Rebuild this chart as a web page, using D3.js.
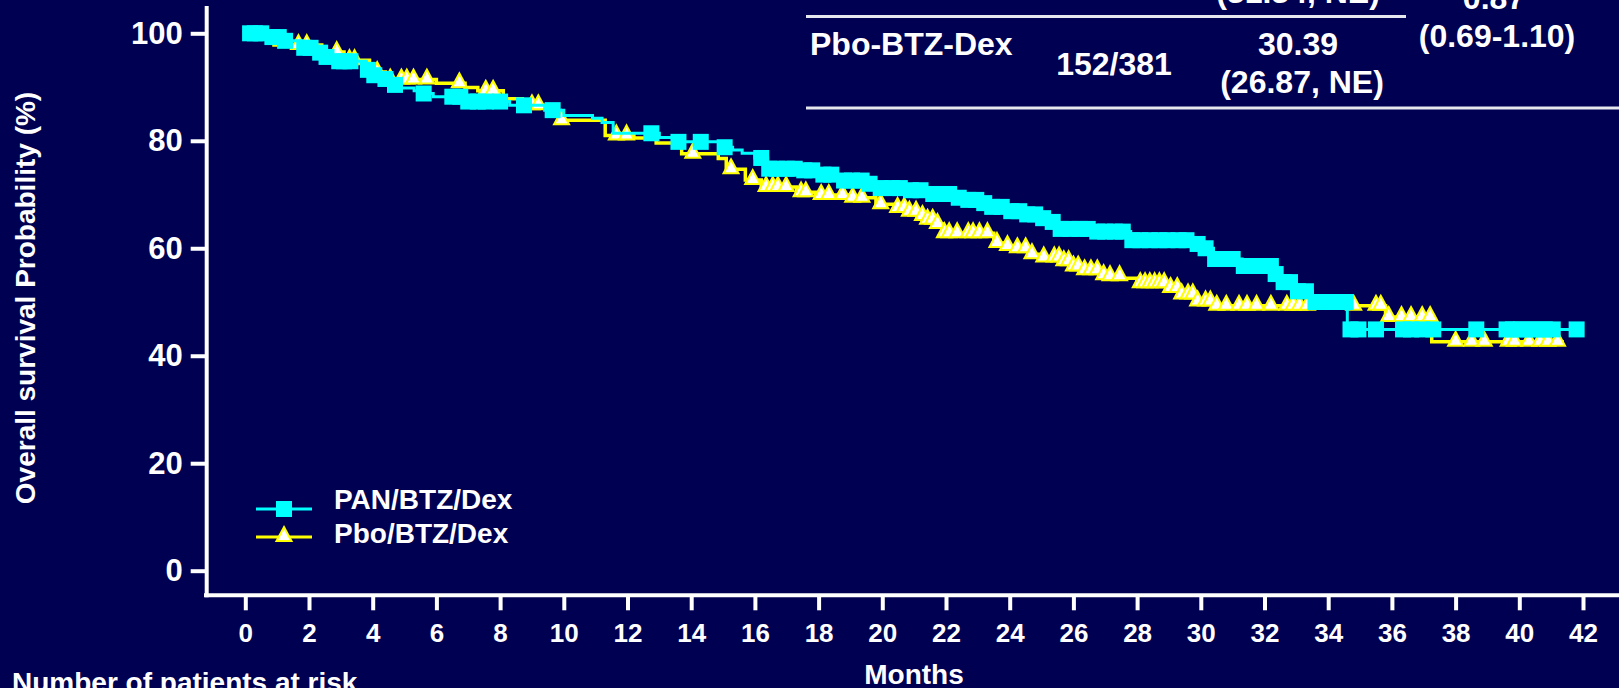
<!DOCTYPE html>
<html>
<head>
<meta charset="utf-8">
<script src="https://cdn.jsdelivr.net/npm/d3@7"></script>
<style>
  body { margin: 0; background: #000052; }
  svg text { font-family: "Liberation Sans", Arial, sans-serif; font-weight: bold; fill: #fff; }
</style>
</head>
<body>
<svg id="plot" width="1619" height="688"></svg>
<script>
// Kaplan-Meier steps: [month, survival %]
const panSteps = [[0, 100], [0.7, 99.3], [1.1, 98.6], [1.8, 97.3], [2.3, 96.4], [2.5, 95.6], [2.9, 94.8],
  [3.8, 93.2], [4.0, 92.2], [4.3, 91.5], [4.6, 90.4], [4.9, 89.8], [5.3, 89.3], [5.5, 88.8], [5.9, 88.2],
  [6.9, 87.3], [8.3, 86.6], [9.4, 85.7], [10.0, 84.7], [10.9, 84.2], [11.2, 83.4], [11.55, 81.4],
  [13.0, 80.6], [13.5, 79.8], [14.9, 78.8], [15.3, 78.3], [15.6, 77.7], [16.0, 76.8], [16.4, 74.8],
  [17.5, 74.5], [18.1, 73.7], [18.7, 72.6], [19.5, 72.0], [19.9, 71.2], [20.8, 70.8], [21.5, 70.1],
  [22.3, 69.4], [22.6, 69.0], [23.1, 68.4], [23.3, 67.7], [24.0, 66.9], [24.4, 66.3], [24.9, 65.6],
  [25.2, 64.9], [25.5, 63.6], [26.6, 63.1], [27.8, 61.5], [29.8, 60.8], [30.1, 60.0], [30.4, 58.0],
  [31.3, 56.7], [32.3, 55.2], [32.5, 53.7], [32.9, 52.0], [33.5, 50.0], [34.6, 44.9], [41.8, 44.9]];

const panCensor = [0.15, 0.3, 0.5, 0.85, 1.05, 1.25, 1.85, 2.05, 2.35, 2.55, 2.95, 3.1, 3.3, 3.85, 4.05,
  4.4, 4.7, 5.6, 6.5, 6.75, 7.0, 7.3, 7.55, 8.0, 8.75, 9.65, 12.75, 13.6, 14.3, 15.05, 16.2, 16.45, 16.7,
  17.0, 17.25, 17.55, 17.8, 18.15, 18.4, 18.8, 19.05, 19.35, 19.6, 19.95, 20.3, 20.55, 20.9, 21.2, 21.6,
  21.85, 22.1, 22.4, 22.7, 22.95, 23.2, 23.45, 23.75, 24.05, 24.3, 24.55, 24.8, 25.05, 25.35, 25.6, 25.9,
  26.2, 26.45, 26.75, 27.0, 27.3, 27.55, 27.85, 28.1, 28.4, 28.7, 28.95, 29.3, 29.55, 29.9, 30.15, 30.45,
  30.75, 31.0, 31.35, 31.6, 31.9, 32.2, 32.35, 32.6, 32.8, 33.05, 33.3, 33.6, 33.85, 34.1, 34.35, 34.55,
  34.7, 34.95, 35.5, 36.35, 36.6, 36.95, 37.3, 38.65, 39.6, 39.8, 40.05, 40.3, 40.55, 40.8, 41.05, 41.8];

const pboSteps = [[0, 100], [0.5, 98.9], [0.9, 97.8], [2.4, 96.5], [3.1, 95.0], [3.9, 92.8], [4.4, 91.4],
  [6.0, 90.7], [6.9, 89.9], [7.3, 89.3], [8.1, 87.8], [8.7, 86.6], [9.6, 85.0], [9.9, 83.8], [11.3, 81.0],
  [12.2, 80.5], [12.9, 79.6], [13.7, 77.6], [14.85, 76.7], [15.1, 74.7], [15.7, 72.7], [16.2, 71.4],
  [17.3, 70.4], [17.9, 69.9], [18.9, 69.4], [19.8, 68.2], [20.4, 67.5], [20.8, 66.8], [21.1, 66.0],
  [21.4, 65.3], [21.7, 64.5], [21.9, 62.8], [23.5, 61.0], [23.8, 60.4], [24.1, 60.0], [24.6, 58.9],
  [24.9, 58.3], [25.6, 57.6], [25.9, 56.6], [26.3, 55.9], [26.8, 55.0], [27.0, 54.8], [27.5, 54.4],
  [28.0, 53.5], [28.95, 52.6], [29.35, 51.4], [29.8, 50.1], [30.4, 49.3], [35.8, 47.2], [37.25, 42.6],
  [41.4, 42.6]];

const pboCensor = [1.67, 1.93, 2.87, 3.27, 3.43, 4.14, 4.55, 4.9, 5.07, 5.28, 5.7, 6.72, 7.55, 7.78, 9.0,
  9.2, 9.93, 11.65, 11.97, 14.05, 15.25, 15.93, 16.35, 16.56, 16.72, 16.98, 17.45, 17.6, 18.08, 18.32,
  18.75, 19.07, 19.36, 19.95, 20.48, 20.69, 20.85, 21.06, 21.26, 21.42, 21.58, 21.73, 21.95, 22.1, 22.35,
  22.7, 22.85, 23.05, 23.3, 23.6, 23.93, 24.24, 24.5, 24.7, 25.07, 25.4, 25.55, 25.7, 25.85, 26.0, 26.15,
  26.35, 26.55, 26.75, 26.95, 27.15, 27.45, 28.1, 28.25, 28.4, 28.55, 28.7, 28.85, 29.05, 29.26, 29.4,
  29.6, 29.75, 29.9, 30.15, 30.3, 30.5, 30.8, 31.2, 31.45, 31.75, 32.2, 32.7, 32.9, 33.1, 33.35, 34.8,
  35.5, 35.65, 35.9, 36.3, 36.6, 36.95, 37.2, 38.0, 38.5, 38.9, 39.65, 39.85, 40.3, 40.65, 40.9, 41.2];

const xTicks = d3.range(0, 43, 2);
const yTicks = [0, 20, 40, 60, 80, 100];
const seriesNames = ["PAN/BTZ/Dex", "Pbo/BTZ/Dex"];

// table in the top right (only partly inside the picture)
const tableTop = ["(31.34, NE)", "0.87"];
const tableRow = ["Pbo-BTZ-Dex", "152/381", "30.39", "(26.87, NE)", "(0.69-1.10)"];

const svg = d3.select("#plot");

svg.append("rect")
  .attr("width", 1619)
  .attr("height", 688)
  .attr("fill", "#000052");

const x = d3.scaleLinear().domain([0, 42]).range([245.3, 1583]);
const y = d3.scaleLinear().domain([0, 100]).range([570.7, 33.3]);

const axisY0 = 595.3;
const axisX0 = 206.7;

// x axis
const xAxis = d3.axisBottom(x)
  .tickValues(xTicks)
  .tickSize(15)
  .tickSizeOuter(0)
  .tickPadding(13);

const gx = svg.append("g")
  .attr("transform", `translate(0, ${axisY0})`)
  .attr("color", "#fff")
  .call(xAxis);
gx.select(".domain").remove();
gx.selectAll(".tick line").attr("stroke-width", 4);
gx.selectAll(".tick text")
  .attr("font-size", 26)
  .attr("font-family", null);

svg.append("line")
  .attr("x1", 204).attr("x2", 1619)
  .attr("y1", axisY0).attr("y2", axisY0)
  .attr("stroke", "#fff")
  .attr("stroke-width", 4);

// y axis
const yAxis = d3.axisLeft(y)
  .tickValues(yTicks)
  .tickSize(16)
  .tickSizeOuter(0)
  .tickPadding(8);

const gy = svg.append("g")
  .attr("transform", `translate(${axisX0}, 0)`)
  .attr("color", "#fff")
  .call(yAxis);
gy.select(".domain").remove();
gy.selectAll(".tick line").attr("stroke-width", 4);
gy.selectAll(".tick text")
  .attr("font-size", 31)
  .attr("font-family", null);

svg.append("line")
  .attr("x1", axisX0).attr("x2", axisX0)
  .attr("y1", 6).attr("y2", axisY0 + 2)
  .attr("stroke", "#fff")
  .attr("stroke-width", 4);

// axis titles
svg.append("text")
  .attr("transform", "translate(35, 298) rotate(-90)")
  .attr("text-anchor", "middle")
  .attr("font-size", 28)
  .text("Overall survival Probability (%)");

svg.append("text")
  .attr("x", 914)
  .attr("y", 684)
  .attr("text-anchor", "middle")
  .attr("font-size", 28)
  .text("Months");

svg.append("text")
  .attr("x", 12)
  .attr("y", 692)
  .attr("font-size", 28)
  .text("Number of patients at risk");

// helpers
function survAt(steps, t) {
  let v = steps[0][1];
  steps.forEach(s => { if (s[0] <= t) v = s[1]; });
  return v;
}

const stepLine = d3.line()
  .x(d => x(d[0]))
  .y(d => y(d[1]))
  .curve(d3.curveStepAfter);

const triPath = "M0,-10L7.5,4L-7.5,4Z";

// Pbo/BTZ/Dex (yellow, triangles)
const g = svg.append("g");

g.append("path")
  .datum(pboSteps)
  .attr("fill", "none")
  .attr("stroke", "#ffff00")
  .attr("stroke-width", 3.5)
  .attr("d", stepLine);

g.selectAll(".tri")
  .data(pboCensor)
  .enter().append("path")
  .attr("class", "tri")
  .attr("transform", d => `translate(${x(d)}, ${y(survAt(pboSteps, d))})`)
  .attr("d", triPath)
  .attr("fill", "#fff")
  .attr("stroke", "#ffff00")
  .attr("stroke-width", 2);

// PAN/BTZ/Dex (cyan, squares)
g.append("path")
  .datum(panSteps)
  .attr("fill", "none")
  .attr("stroke", "#00ffff")
  .attr("stroke-width", 3)
  .attr("d", stepLine);

g.selectAll(".sq")
  .data(panCensor)
  .enter().append("rect")
  .attr("class", "sq")
  .attr("x", d => x(d) - 8)
  .attr("y", d => y(survAt(panSteps, d)) - 8)
  .attr("width", 16)
  .attr("height", 16)
  .attr("fill", "#00ffff");

// legend
const legend = svg.append("g");

legend.append("line")
  .attr("x1", 256).attr("x2", 312)
  .attr("y1", 509).attr("y2", 509)
  .attr("stroke", "#00ffff")
  .attr("stroke-width", 3);
legend.append("rect")
  .attr("x", 276).attr("y", 501)
  .attr("width", 16).attr("height", 16)
  .attr("fill", "#00ffff");

legend.append("line")
  .attr("x1", 256).attr("x2", 312)
  .attr("y1", 537).attr("y2", 537)
  .attr("stroke", "#ffff00")
  .attr("stroke-width", 3);
legend.append("path")
  .attr("transform", "translate(284, 537)")
  .attr("d", triPath)
  .attr("fill", "#fff")
  .attr("stroke", "#ffff00")
  .attr("stroke-width", 2);

legend.selectAll("text")
  .data(seriesNames)
  .enter().append("text")
  .attr("x", 334)
  .attr("y", (d, i) => i === 0 ? 509 : 543)
  .attr("font-size", 28)
  .text(d => d);

// table
const table = svg.append("g").attr("font-size", 32);

table.append("text").attr("x", 1298).attr("y", 3).attr("text-anchor", "middle").text(tableTop[0]);
table.append("text").attr("x", 1494).attr("y", 9).attr("text-anchor", "middle").text(tableTop[1]);

table.append("line")
  .attr("x1", 806).attr("x2", 1406)
  .attr("y1", 16.5).attr("y2", 16.5)
  .attr("stroke", "#e6e6ee")
  .attr("stroke-width", 3);

table.append("text").attr("x", 810).attr("y", 55).text(tableRow[0]);
table.append("text").attr("x", 1114).attr("y", 75).attr("text-anchor", "middle").text(tableRow[1]);
table.append("text").attr("x", 1298).attr("y", 55).attr("text-anchor", "middle").text(tableRow[2]);
table.append("text").attr("x", 1302).attr("y", 93).attr("text-anchor", "middle").text(tableRow[3]);
table.append("text").attr("x", 1497).attr("y", 47).attr("text-anchor", "middle").text(tableRow[4]);

table.append("line")
  .attr("x1", 806).attr("x2", 1619)
  .attr("y1", 108).attr("y2", 108)
  .attr("stroke", "#e6e6ee")
  .attr("stroke-width", 3);
</script>
</body>
</html>
